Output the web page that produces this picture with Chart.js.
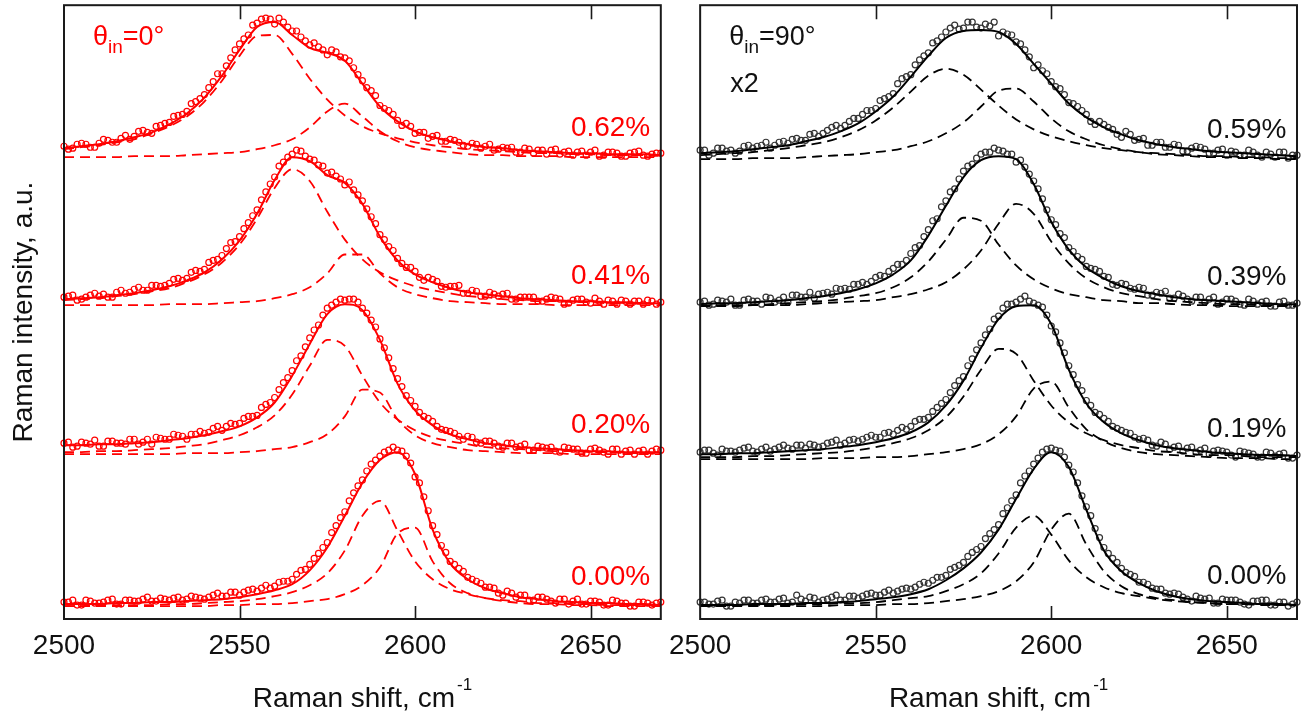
<!DOCTYPE html>
<html>
<head>
<meta charset="utf-8">
<script src="https://cdn.jsdelivr.net/npm/chart.js@4.4.1/dist/chart.umd.min.js"></script>
<style>
  html, body { margin: 0; padding: 0; background: #fff; }
  #wrap { position: relative; width: 1312px; height: 719px; }
  canvas { position: absolute; top: 0; }
  #left { left: 0; }
  #right { left: 659px; }
</style>
</head>
<body>
<div id="wrap">
  <canvas id="left" width="666" height="719"></canvas>
  <canvas id="right" width="653" height="719"></canvas>
</div>
<script>
// Raman shift (cm-1) where the fitted curves and the measured points are given
const fitShift = [2500, 2505, 2510, 2515, 2520, 2525, 2530, 2535, 2540, 2545, 2550, 2555, 2560, 2565, 2570, 2575, 2580, 2585,
  2590, 2595, 2600, 2605, 2610, 2615, 2620, 2625, 2630, 2635, 2640, 2645, 2650, 2655, 2660, 2665, 2670];
const dotShift = [2500, 2502.5, 2505, 2507.5, 2510, 2512.5, 2515, 2517.5, 2520, 2522.5, 2525, 2527.5, 2530, 2532.5, 2535,
  2537.5, 2540, 2542.5, 2545, 2547.5, 2550, 2552.5, 2555, 2557.5, 2560, 2562.5, 2565, 2567.5, 2570, 2572.5, 2575, 2577.5,
  2580, 2582.5, 2585, 2587.5, 2590, 2592.5, 2595, 2597.5, 2600, 2602.5, 2605, 2607.5, 2610, 2612.5, 2615, 2617.5, 2620,
  2622.5, 2625, 2627.5, 2630, 2632.5, 2635, 2637.5, 2640, 2642.5, 2645, 2647.5, 2650, 2652.5, 2655, 2657.5, 2660, 2662.5,
  2665, 2667.5, 2670];
const dotShiftB = [2501.25, 2503.75, 2506.25, 2508.75, 2511.25, 2513.75, 2516.25, 2518.75, 2521.25, 2523.75, 2526.25,
  2528.75, 2531.25, 2533.75, 2536.25, 2538.75, 2541.25, 2543.75, 2546.25, 2548.75, 2551.25, 2553.75, 2556.25, 2558.75,
  2561.25, 2563.75, 2566.25, 2568.75, 2571.25, 2573.75, 2576.25, 2578.75, 2581.25, 2583.75, 2586.25, 2588.75, 2591.25,
  2593.75, 2596.25, 2598.75, 2601.25, 2603.75, 2606.25, 2608.75, 2611.25, 2613.75, 2616.25, 2618.75, 2621.25, 2623.75,
  2626.25, 2628.75, 2631.25, 2633.75, 2636.25, 2638.75, 2641.25, 2643.75, 2646.25, 2648.75, 2651.25, 2653.75, 2656.25,
  2658.75, 2661.25, 2663.75, 2666.25, 2668.75];
const tickShift = [2550, 2600, 2650];
const labelShift = 2667;

// ---- theta_in = 0 deg (left panel), spectra from bottom to top ----
const strainLeft = ['0.00%', '0.20%', '0.41%', '0.62%'];
const offsetLeft = [12, 165, 315, 464];

const fitL00 = [3,3,3,4,4,5,5,6,7,8,10,13,17,23,37,60,92,125,148,156,134,78,44,28,19,14,10,8,6,5,4,4,3,3,2];
const peak1L00 = [1,1,2,2,2,2,3,3,4,5,6,8,11,15,22,34,57,92,107,77,46,28,18,13,9,7,6,4,4,3,3,2,2,2,1];
const peak2L00 = [1,1,1,1,1,1,1,1,1,2,2,3,3,4,6,8,13,22,40,74,80,46,24,14,9,6,4,3,3,2,2,1,1,1,1];
const dotsL00 = [5,7,2,6,4,7,3,7,6,8,6,9,7,10,8,10,8,12,11,15,12,17,16,22,21,26,28,37,43,54,65,82,96,115,128,144,152,158,
  158,152,131,111,82,62,46,39,30,26,20,19,12,14,12,7,10,8,4,8,6,3,6,5,2,6,4,1,5,2,5];
const dotsL00b = [5,2,7,4,5,8,3,7,6,10,6,8,9,7,11,9,10,14,11,15,15,18,19,19,25,26,33,38,49,60,75,90,107,122,137,148,156,
  161,157,145,125,97,73,55,43,36,28,24,20,14,16,10,12,7,10,6,8,3,8,3,6,2,7,4,1,5,4,4];

const fitL20 = [10,10,11,11,12,13,15,17,20,24,29,38,53,80,112,142,152,146,116,72,45,30,21,16,12,10,8,7,6,5,4,4,3,3,3];
const peak1L20 = [3,3,4,4,5,6,7,9,11,15,20,28,40,61,90,116,110,80,53,36,25,18,14,11,8,7,6,5,4,4,3,3,2,2,2];
const peak2L20 = [1,1,1,1,1,1,1,2,2,2,3,4,6,8,13,21,39,66,63,36,20,12,8,5,4,3,2,2,2,1,1,1,1,1,1];
const dotsL20 = [12,8,13,11,9,14,12,11,16,13,11,17,16,20,16,21,22,27,25,32,32,39,40,51,58,73,85,100,118,131,148,154,156,
  157,148,136,117,98,77,60,49,39,34,26,24,19,19,13,14,12,8,12,9,5,9,7,4,8,6,2,6,5,1,6,4,1,5,4,5];
const dotsL20b = [13,9,12,15,9,14,12,16,11,16,18,16,21,19,21,24,23,29,29,31,37,39,48,53,66,78,95,109,126,141,151,157,157,
  154,143,129,108,87,69,55,43,37,29,25,22,16,18,12,14,9,12,8,11,5,8,8,3,7,6,2,7,3,6,1,5,4,1,6];

const fitL41 = [7,8,9,11,13,16,20,26,34,47,66,93,127,150,146,132,124,103,70,46,32,24,18,14,12,10,8,7,6,5,5,4,4,3,3];
const peak1L41 = [6,7,8,10,12,15,18,24,32,44,62,88,119,138,126,95,67,47,34,26,20,16,13,10,9,7,6,5,5,4,4,3,3,3,2];
const peak2L41 = [1,1,1,1,1,1,2,2,2,3,4,5,8,12,19,33,52,52,33,19,12,8,5,4,3,2,2,2,1,1,1,1,1,1,1];
const dotsL41 = [9,11,7,11,10,9,14,13,17,16,21,20,23,28,28,36,37,46,51,64,70,84,97,115,130,145,153,156,148,142,134,131,
  122,117,106,90,72,60,48,39,35,26,27,20,20,21,13,15,10,12,12,7,9,9,5,7,8,2,6,7,3,5,6,2,5,5,2,5,4];
const dotsL41b = [10,6,9,13,12,9,16,14,19,16,21,21,27,26,34,35,44,47,58,65,78,91,107,123,141,150,157,151,147,141,135,128,
  125,112,98,83,67,56,43,39,29,29,25,19,20,13,16,10,14,10,13,7,9,9,5,9,7,3,7,4,8,2,5,6,2,5,6,2];

const fitL62 = [10,12,14,17,21,26,34,45,61,83,109,132,137,124,111,106,98,75,52,37,27,21,17,14,11,10,8,7,6,5,5,4,4,4,3];
const peak1L62 = [9,11,13,16,19,25,32,42,57,78,103,123,124,105,80,59,43,32,25,20,16,13,11,9,8,7,6,5,5,4,4,3,3,3,3];
const peak2L62 = [1,1,1,1,2,2,2,3,4,5,6,9,13,19,31,47,55,42,27,17,11,8,6,4,3,3,2,2,2,1,1,1,1,1,1];
const dotsL62 = [12,10,15,11,15,18,16,23,22,28,25,33,36,43,47,57,64,77,85,101,115,124,136,141,135,137,128,122,114,112,
  104,107,101,91,78,68,53,48,38,35,25,26,22,17,19,16,12,14,12,8,11,11,6,9,8,4,9,6,3,7,6,2,6,5,2,6,3,4,5];
const dotsL62b = [9,14,14,11,19,16,20,19,27,26,32,35,42,44,55,60,71,85,93,109,120,134,140,140,141,132,128,118,116,109,
  109,102,98,84,71,63,50,44,33,32,26,20,23,17,18,13,15,10,14,9,10,6,10,5,8,8,4,7,6,3,8,3,6,2,5,7,2,5];

// ---- theta_in = 90 deg (right panel, x2), spectra from bottom to top ----
const strainRight = ['0.00%', '0.19%', '0.39%', '0.59%'];
const offsetRight = [12, 160, 313, 461];

const fitR00 = [2,2,2,3,3,3,4,4,5,6,8,10,13,18,27,39,55,78,109,139,156,141,98,57,36,24,16,11,8,6,5,4,3,3,2];
const peak1R00 = [1,1,2,2,2,2,3,3,4,4,5,7,9,11,16,23,34,54,80,92,73,47,30,20,14,11,8,6,5,4,3,3,3,2,2];
const peak2R00 = [1,1,1,1,1,1,1,1,2,2,2,3,3,4,6,8,11,16,26,45,78,94,63,36,21,13,9,7,5,4,3,3,2,2,2];
const dotsR00 = [5,3,6,1,5,7,4,7,5,8,4,12,6,9,7,10,7,11,9,13,12,15,14,18,18,23,24,30,32,40,45,55,61,74,83,100,113,132,
  144,156,160,157,143,125,101,79,60,49,39,33,25,23,18,14,14,10,6,9,9,4,7,7,3,6,7,2,5,1,5];
const dotsR00b = [5,3,7,1,4,7,4,8,5,9,5,8,10,5,8,12,7,11,11,14,12,17,16,19,20,25,27,30,38,42,51,58,69,78,94,107,125,137,
  150,159,158,151,136,112,92,70,54,45,35,31,25,19,18,13,13,8,11,8,4,8,7,5,2,6,7,2,5,3];

const fitR19 = [6,6,7,7,8,9,10,11,13,15,18,22,28,38,55,80,113,142,155,156,137,91,57,38,27,20,15,12,10,8,7,6,5,5,4];
const peak1R19 = [3,3,3,4,4,5,6,7,8,10,13,17,22,30,43,64,91,112,107,80,55,38,27,20,15,12,9,8,6,5,5,4,3,3,3];
const peak2R19 = [1,1,1,1,1,1,1,2,2,2,3,3,4,6,8,11,16,26,44,72,79,53,31,19,12,8,6,5,4,3,2,2,2,1,1];
const dotsR19 = [8,10,5,9,8,12,9,11,9,13,12,15,12,15,14,18,15,20,19,23,23,27,26,33,34,41,43,53,61,75,84,102,118,132,
  145,157,159,165,158,154,135,118,95,76,60,48,42,34,30,27,21,20,14,16,13,9,13,10,6,10,8,3,8,6,3,7,6,2,5];
const dotsR19b = [10,7,11,9,10,13,8,13,11,15,11,15,16,13,17,20,17,21,21,25,23,28,30,31,39,41,49,57,68,80,95,111,126,142,
  153,157,162,160,156,146,129,108,86,70,55,46,39,32,28,23,22,15,18,11,14,12,8,12,9,9,5,9,7,3,8,4,7,2];

const fitR39 = [4,5,5,6,7,8,10,12,15,19,25,34,48,73,103,132,149,153,150,125,87,59,41,30,22,17,14,11,9,8,7,6,5,4,4];
const peak1R39 = [2,3,3,3,4,5,6,7,9,12,15,21,31,47,69,91,88,64,43,29,20,14,11,8,7,5,5,4,3,3,2,2,2,2,2];
const peak2R39 = [2,2,2,3,3,3,4,5,6,7,8,11,14,19,26,39,58,85,105,95,67,45,30,21,15,12,9,7,6,5,4,4,3,3,2];
const dotsR39 = [6,3,8,6,3,8,7,4,10,8,6,13,11,10,15,14,19,19,24,24,31,32,40,44,55,63,79,90,108,120,138,145,155,157,
  159,155,147,142,128,110,89,75,61,52,42,39,32,24,25,20,21,13,16,17,10,12,7,11,9,4,9,7,3,7,6,2,6,3,5];
const dotsR39b = [7,4,7,9,3,9,7,11,6,11,13,11,16,14,16,20,20,24,26,27,33,37,44,48,61,72,88,102,117,130,143,151,157,161,
  158,155,149,135,120,99,84,71,57,49,40,37,31,23,24,19,20,13,15,10,14,9,11,6,11,6,9,4,9,4,7,2,7,3];

const fitR59 = [8,9,10,12,14,16,20,24,30,38,50,65,85,106,124,131,132,130,118,98,78,58,44,34,27,21,17,14,12,10,9,8,7,6,5];
const peak1R59 = [6,7,8,9,11,13,16,19,24,31,41,54,70,86,93,87,72,56,42,32,25,20,16,13,11,9,8,7,6,5,5,4,4,3,3];
const peak2R59 = [2,2,2,3,3,3,4,5,6,7,9,11,15,20,28,39,55,71,73,60,43,30,22,16,12,9,7,6,5,4,4,3,3,2,2];
const dotsR59 = [11,6,13,10,8,15,13,16,13,19,18,23,21,28,28,34,33,40,43,51,53,63,68,83,87,102,109,121,130,137,134,140,
  134,136,126,128,120,112,94,91,80,73,59,55,47,37,37,32,24,27,22,16,19,14,17,10,13,14,8,11,6,9,6,9,4,7,9,3,6];
const dotsR59b = [11,8,13,11,10,16,15,19,16,20,22,21,27,25,31,36,36,43,47,51,61,65,78,85,97,106,119,125,134,133,140,135,
  138,140,130,127,118,105,97,88,75,67,58,51,40,40,34,27,30,21,23,16,19,14,16,10,15,12,8,12,10,6,11,6,9,4,9,6];

const FONT = '"Liberation Sans", Arial, Helvetica, sans-serif';
Chart.defaults.font.family = FONT;

function buildSets(offsets, fits, peaks1, peaks2, dots, dotsB, lineColor, dotColor) {
  const sets = [];
  offsets.forEach((off, k) => {
    sets.push({
      data: fitShift.map((s, i) => ({ x: s, y: off + fits[k][i] })),
      borderColor: lineColor, borderWidth: 2, pointRadius: 0, cubicInterpolationMode: 'monotone'
    });
    [peaks1[k], peaks2[k]].forEach(p => sets.push({
      data: fitShift.map((s, i) => ({ x: s, y: off + p[i] })),
      borderColor: lineColor, borderWidth: 1.8, borderDash: [10, 6], pointRadius: 0, cubicInterpolationMode: 'monotone'
    }));
  });
  offsets.forEach((off, k) => {
    [[dotShift, dots[k]], [dotShiftB, dotsB[k]]].forEach(([xs, ys]) => sets.push({
      data: xs.map((s, i) => ({ x: s, y: off + ys[i] })),
      showLine: false, pointRadius: 3, pointBorderWidth: 1.2,
      pointBorderColor: dotColor, pointBackgroundColor: 'rgba(0,0,0,0)', clip: false
    }));
  });
  return sets;
}

// frame with inward ticks, strain labels, angle label and x title
const framePlugin = {
  id: 'frame',
  afterDatasetsDraw(chart, args, opts) {
    const { ctx, chartArea: a, scales: { x, y } } = chart;
    ctx.save();
    ctx.strokeStyle = '#1a1a1a';
    ctx.lineWidth = 2;
    ctx.strokeRect(a.left, a.top, a.right - a.left, a.bottom - a.top);
    ctx.lineWidth = 1.6;
    ctx.beginPath();
    tickShift.forEach(v => {
      const px = Math.round(x.getPixelForValue(v)) + 0.5;
      ctx.moveTo(px, a.bottom); ctx.lineTo(px, a.bottom - 13);
      ctx.moveTo(px, a.top); ctx.lineTo(px, a.top + 14);
    });
    ctx.stroke();

    const big = '28px ' + FONT, mid = '27px ' + FONT, small = '19px ' + FONT;
    ctx.fillStyle = opts.color;
    ctx.font = big;
    ctx.textAlign = 'right';
    ctx.textBaseline = 'middle';
    opts.labels.forEach((t, i) => {
      ctx.fillText(t, x.getPixelForValue(labelShift), y.getPixelForValue(opts.offsets[i] + opts.lift));
    });

    ctx.textAlign = 'left';
    ctx.textBaseline = 'alphabetic';
    ctx.font = mid;
    let tx = a.left + 29;
    ctx.fillText('θ', tx, 45);
    tx += ctx.measureText('θ').width;
    ctx.font = small;
    ctx.fillText('in', tx, 53);
    tx += ctx.measureText('in').width;
    ctx.font = mid;
    ctx.fillText('=' + opts.angle, tx, 45);
    if (opts.gain) ctx.fillText(opts.gain, a.left + 30, 92);

    ctx.fillStyle = '#111';
    ctx.font = big;
    const main = 'Raman shift, cm', sup = '-1';
    const w1 = ctx.measureText(main).width;
    ctx.font = '17px ' + FONT;
    const w2 = ctx.measureText(sup).width;
    const sx = (a.left + a.right) / 2 - (w1 + w2 + 2) / 2;
    ctx.fillText(sup, sx + w1 + 2, 690);
    ctx.font = big;
    ctx.fillText(main, sx, 707);
    ctx.restore();
  }
};

function makeChart(id, sets, padding, showTitle, frameOpts) {
  return new Chart(document.getElementById(id), {
    type: 'line',
    data: { datasets: sets },
    plugins: [framePlugin],
    options: {
      responsive: false,
      animation: false,
      devicePixelRatio: 1,
      layout: { padding: padding },
      plugins: { legend: { display: false }, tooltip: { enabled: false }, frame: frameOpts },
      scales: {
        x: {
          type: 'linear', min: 2500, max: 2670,
          grid: { display: false, drawTicks: false },
          border: { display: false },
          ticks: {
            stepSize: 50, includeBounds: false, padding: 10, color: '#111', maxRotation: 0,
            font: { size: 28 }, callback: v => String(v)
          },
          afterFit: s => { s.height = 100; }
        },
        y: {
          display: showTitle, min: 0, max: 618,
          grid: { display: false, drawTicks: false },
          border: { display: false },
          ticks: { display: false },
          title: { display: true, text: 'Raman intensity, a.u.', color: '#111', font: { size: 28 }, padding: { top: 7 } },
          afterFit: s => { s.width = showTitle ? 64 : 0; }
        }
      }
    }
  });
}

makeChart('left',
  buildSets(offsetLeft, [fitL00, fitL20, fitL41, fitL62], [peak1L00, peak1L20, peak1L41, peak1L62],
    [peak2L00, peak2L20, peak2L41, peak2L62], [dotsL00, dotsL20, dotsL41, dotsL62],
    [dotsL00b, dotsL20b, dotsL41b, dotsL62b], '#ff0000', '#ff0000'),
  { left: 0, right: 4, top: 1, bottom: 0 }, true,
  { color: '#ff0000', labels: strainLeft, offsets: offsetLeft, lift: 30, angle: '0°', gain: '' });

makeChart('right',
  buildSets(offsetRight, [fitR00, fitR19, fitR39, fitR59], [peak1R00, peak1R19, peak1R39, peak1R59],
    [peak2R00, peak2R19, peak2R39, peak2R59], [dotsR00, dotsR19, dotsR39, dotsR59],
    [dotsR00b, dotsR19b, dotsR39b, dotsR59b], '#000000', '#333333'),
  { left: 41, right: 15, top: 1, bottom: 0 }, false,
  { color: '#111', labels: strainRight, offsets: offsetRight, lift: 31, angle: '90°', gain: 'x2' });
</script>
</body>
</html>
